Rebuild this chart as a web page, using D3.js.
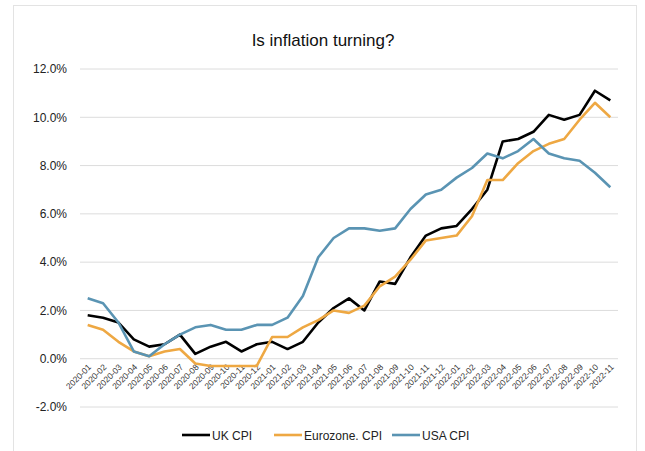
<!doctype html>
<html lang="en">
<head>
<meta charset="utf-8">
<script src="https://cdn.jsdelivr.net/npm/d3@7/dist/d3.min.js"></script>
<style>
  body { margin: 0; background: #fff; font-family: "Liberation Sans", Arial, sans-serif; }
</style>
</head>
<body>
<svg id="chart" width="645" height="451"></svg>
<script>
// monthly categories
var months = ["2020-01","2020-02","2020-03","2020-04","2020-05","2020-06","2020-07","2020-08","2020-09","2020-10","2020-11","2020-12",
              "2021-01","2021-02","2021-03","2021-04","2021-05","2021-06","2021-07","2021-08","2021-09","2021-10","2021-11","2021-12",
              "2022-01","2022-02","2022-03","2022-04","2022-05","2022-06","2022-07","2022-08","2022-09","2022-10","2022-11"];
var ukCpi = [1.8,1.7,1.5,0.8,0.5,0.6,1.0,0.2,0.5,0.7,0.3,0.6,
             0.7,0.4,0.7,1.5,2.1,2.5,2.0,3.2,3.1,4.2,5.1,5.4,
             5.5,6.2,7.0,9.0,9.1,9.4,10.1,9.9,10.1,11.1,10.7];
var euroCpi = [1.4,1.2,0.7,0.3,0.1,0.3,0.4,-0.2,-0.3,-0.3,-0.3,-0.3,
               0.9,0.9,1.3,1.6,2.0,1.9,2.2,3.0,3.4,4.1,4.9,5.0,
               5.1,5.9,7.4,7.4,8.1,8.6,8.9,9.1,9.9,10.6,10.0];
var usaCpi = [2.5,2.3,1.5,0.3,0.1,0.6,1.0,1.3,1.4,1.2,1.2,1.4,
              1.4,1.7,2.6,4.2,5.0,5.4,5.4,5.3,5.4,6.2,6.8,7.0,
              7.5,7.9,8.5,8.3,8.6,9.1,8.5,8.3,8.2,7.7,7.1];
var yTicks = [-2,0,2,4,6,8,10,12];
var seriesNames = ["UK CPI","Eurozone. CPI","USA CPI"];

var colors = ["#000000", "#eea843", "#5a94b3"];
var series = [ukCpi, euroCpi, usaCpi];

var svg = d3.select("#chart");

// outer frame
svg.append("rect")
    .attr("x", 13.5).attr("y", 5.5)
    .attr("width", 623).attr("height", 450)
    .attr("fill", "#fff")
    .attr("stroke", "#e3e3e3");

var plotLeft = 80, plotRight = 618, plotTop = 69, plotBottom = 407;

var x = d3.scaleBand().domain(months).range([plotLeft, plotRight]);
var y = d3.scaleLinear().domain([-2, 12]).range([plotBottom, plotTop]);

// gridlines
svg.append("g")
    .selectAll("line")
    .data(yTicks)
    .join("line")
    .attr("x1", plotLeft).attr("x2", plotRight)
    .attr("y1", d => y(d)).attr("y2", d => y(d))
    .attr("stroke", "#dcdcdc")
    .attr("stroke-width", 1);

// y axis labels
var yAxis = d3.axisLeft(y).tickValues(yTicks)
    .tickFormat(d => d.toFixed(1) + "%")
    .tickSize(0).tickPadding(13);
var gy = svg.append("g")
    .attr("transform", "translate(" + plotLeft + ",0)")
    .call(yAxis);
gy.select(".domain").remove();
gy.selectAll("text")
    .attr("font-family", "Liberation Sans, Arial, sans-serif")
    .attr("font-size", 12)
    .attr("fill", "#222");

// x axis labels, rotated
var xAxis = d3.axisBottom(x).tickSize(0).tickPadding(0);
var gx = svg.append("g")
    .attr("transform", "translate(0," + y(0) + ")")
    .call(xAxis);
gx.select(".domain").remove();
gx.selectAll("text")
    .attr("font-family", "Liberation Sans, Arial, sans-serif")
    .attr("font-size", 8.5)
    .attr("fill", "#333")
    .attr("text-anchor", "end")
    .attr("dy", 0)
    .attr("y", 0)
    .attr("transform", "translate(4,9) rotate(-45)");

// lines
var line = d3.line()
    .x((d, i) => x(months[i]) + x.bandwidth() / 2)
    .y(d => y(d));

svg.append("g")
    .selectAll("path")
    .data(series)
    .join("path")
    .attr("fill", "none")
    .attr("stroke", (d, i) => colors[i])
    .attr("stroke-width", 2.6)
    .attr("stroke-linejoin", "round")
    .attr("d", line);

// title
svg.append("text")
    .attr("x", 323).attr("y", 46)
    .attr("text-anchor", "middle")
    .attr("font-family", "Liberation Sans, Arial, sans-serif")
    .attr("font-size", 17)
    .attr("fill", "#111")
    .text("Is inflation turning?");

// legend
var legendX = [182, 274, 392];
var legend = svg.append("g")
    .selectAll("g")
    .data(seriesNames)
    .join("g")
    .attr("transform", (d, i) => "translate(" + legendX[i] + ",435)");
legend.append("line")
    .attr("x1", 0).attr("x2", 28)
    .attr("stroke", (d, i) => colors[i])
    .attr("stroke-width", 2.6);
legend.append("text")
    .attr("x", 30).attr("y", 4.5)
    .attr("font-family", "Liberation Sans, Arial, sans-serif")
    .attr("font-size", 12)
    .attr("fill", "#222")
    .text(d => d);
</script>
</body>
</html>
